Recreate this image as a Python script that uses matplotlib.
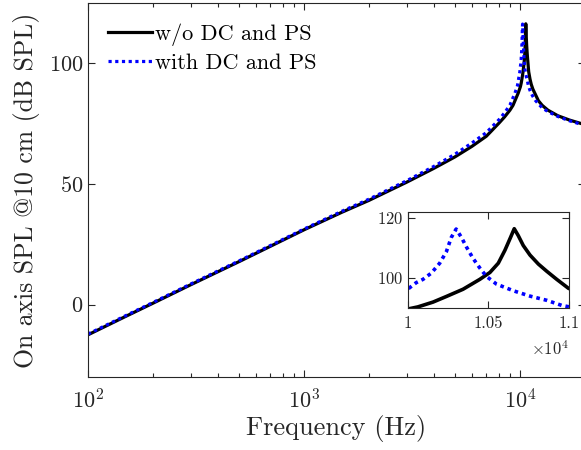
import matplotlib
matplotlib.use("Agg")

import matplotlib.pyplot as plt
from matplotlib.ticker import FixedLocator, FixedFormatter, LogLocator, NullFormatter

# ── style (MATLAB / LaTeX look) ──────────────────────────────
plt.rcParams["font.family"] = "serif"
plt.rcParams["font.serif"] = ["cmr10", "DejaVu Serif"]
plt.rcParams["mathtext.fontset"] = "cm"
plt.rcParams["axes.formatter.use_mathtext"] = True
plt.rcParams["axes.unicode_minus"] = False

AX_COLOR = "#262626"

# ── data ─────────────────────────────────────────────────────
freq_wo = [100, 150, 200, 300, 500, 700, 1000, 1500, 2000, 3000, 4000, 5000,
           6000, 7000, 8000, 8500, 9000, 9300, 9600, 9834, 10062, 10156,
           10240, 10343, 10447, 10510, 10562, 10603, 10638, 10661, 10686,
           10717, 10759, 10811, 10863, 10925, 10998, 11150, 11300, 11500,
           11800, 12200, 12700, 13500, 15000, 17000, 20000]
spl_wo = [-12.5, -4.8, 0.6, 8.3, 17.8, 24.2, 31.0, 38.3, 43.2, 50.8, 56.5, 61.2,
          65.6, 69.8, 75.2, 77.8, 80.6, 82.6, 85.5, 87.7, 90.3, 91.9,
          93.8, 96.2, 99.5, 101.8, 104.9, 109.2, 113.5, 116.4, 114.1,
          110.8, 107.6, 104.6, 102.2, 99.5, 96.5, 93.5, 91.3, 89.3,
          87.2, 84.5, 82.6, 80.6, 78.3, 76.5, 74.6]

freq_with = [100, 150, 200, 300, 500, 700, 1000, 1500, 2000, 3000, 4000, 5000,
             6000, 7000, 8000, 8500, 9000, 9500, 9750, 10006, 10052, 10094,
             10146, 10198, 10239, 10270, 10300, 10333, 10364, 10405, 10447,
             10488, 10551, 10655, 10759, 10863, 10956, 11150, 11300, 11500,
             11800, 12200, 12700, 13500, 15000, 17000, 20000]
spl_with = [-12.2, -4.5, 0.9, 8.6, 18.1, 24.5, 31.3, 38.7, 43.7, 51.4, 57.3, 62.3,
            67.0, 71.3, 76.6, 79.5, 82.7, 87.7, 90.7, 96.5, 98.4, 99.5,
            101.6, 104.9, 108.7, 113.5, 116.3, 113.5, 110.3, 106.5, 103.3,
            100.5, 97.9, 95.7, 93.9, 92.5, 90.8, 88.8, 87.6, 86.3,
            84.7, 83.2, 81.6, 80.0, 78.0, 76.2, 74.3]

labels = ["w/o DC and PS", "with DC and PS"]


def style_axes(ax, fs):
    for s in ax.spines.values():
        s.set_color(AX_COLOR)
        s.set_linewidth(0.8)
    ax.tick_params(which="both", direction="in", top=True, right=True,
                   colors=AX_COLOR, labelsize=fs, width=0.8)
    ax.tick_params(which="major", length=5)
    ax.tick_params(which="minor", length=3)


fig = plt.figure(figsize=(5.81, 4.5), dpi=100)

# ── main axes ────────────────────────────────────────────────
ax = fig.add_axes([0.1515, 0.1622, 0.855, 0.831])
ax.plot(freq_wo, spl_wo, color="black", lw=2.3, label=labels[0])
ax.plot(freq_with, spl_with, color="blue", lw=2.3, ls=(0, (1, 1.1)),
        label=labels[1])
ax.set_xscale("log")
ax.set_xlim(100, 20000)
ax.set_ylim(-30, 125)
ax.set_yticks([0, 50, 100])
ax.xaxis.set_minor_locator(LogLocator(base=10, subs=range(2, 10)))
ax.xaxis.set_minor_formatter(NullFormatter())
style_axes(ax, 16)
ax.tick_params(axis="x", pad=8)
ax.set_xlabel("Frequency (Hz)", fontsize=19, color=AX_COLOR, labelpad=2)
ax.set_ylabel("On axis SPL @10 cm (dB SPL)", fontsize=18.5, color=AX_COLOR,
              labelpad=6)
ax.legend(loc="upper left", frameon=False, fontsize=16, handlelength=2.0,
          handletextpad=0.1, borderaxespad=0.5, labelspacing=0.35)

# ── inset ────────────────────────────────────────────────────
axi = fig.add_axes([0.702, 0.316, 0.277, 0.213])
axi.plot(freq_wo, spl_wo, color="black", lw=2.6)
axi.plot(freq_with, spl_with, color="blue", lw=2.6, ls=(0, (1, 1.1)))
axi.set_xlim(10000, 11000)
axi.set_ylim(90, 122)
axi.xaxis.set_major_locator(FixedLocator([10000, 10500, 11000]))
axi.xaxis.set_major_formatter(FixedFormatter(["1", "1.05", "1.1"]))
axi.set_yticks([100, 120])
style_axes(axi, 12)
axi.tick_params(axis="x", pad=6)
axi.text(1.0, -0.33, r"$\times10^{4}$", transform=axi.transAxes,
         ha="right", va="top", fontsize=12, color=AX_COLOR)

fig.savefig("out.png", dpi=100)
